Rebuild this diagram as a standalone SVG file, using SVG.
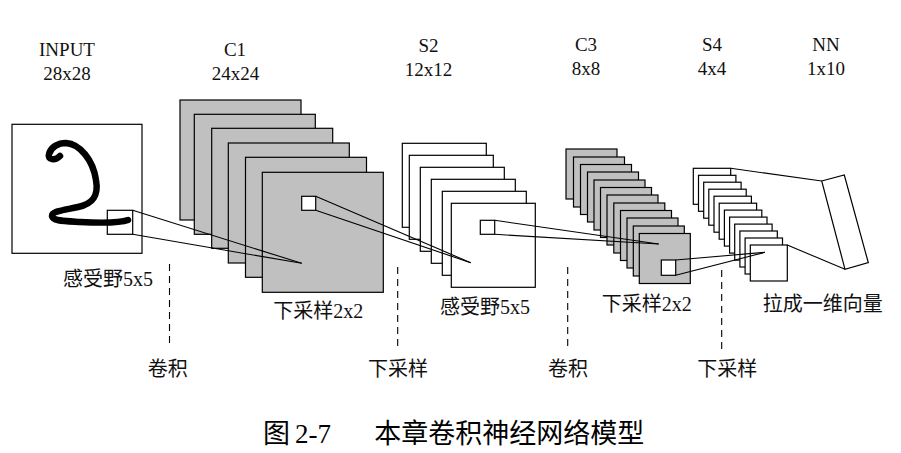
<svg xmlns="http://www.w3.org/2000/svg" width="901" height="453" viewBox="0 0 901 453">
<style>
.bg{fill:#ffffff}
.gray{fill:#c0c0c0;stroke:#000;stroke-width:1.2}
.white{fill:#ffffff;stroke:#000;stroke-width:1.2}
.open{fill:none;stroke:#000;stroke-width:1.2}
.conn{fill:none;stroke:#000;stroke-width:1.1}
.dash{fill:none;stroke:#000;stroke-width:1.1;stroke-dasharray:7 5}
.hand{fill:none;stroke:#000;stroke-width:6.5;stroke-linecap:round;stroke-linejoin:round}
.top{font-family:"Liberation Serif","Times New Roman","DejaVu Serif",serif;font-size:19px;fill:#111;text-anchor:middle}
.lbl{font-family:"Liberation Serif","Noto Sans CJK SC",serif;font-size:20px;fill:#111}
.cap{font-family:"Liberation Serif","Noto Sans CJK SC",serif;font-size:27px;fill:#000}
</style>
<rect class="bg" x="0" y="0" width="901" height="453"/>

<g id="input">
  <rect class="white" x="12" y="124.3" width="130" height="129"/>
  <path class="hand" d="M60 156 C55 161,47 160,49 154 C51 147,58 143,66 143 C80 144,93 160,96 180 C99 197,92 204,78 207 C65 210,52 211,52 216 C53 221,62 221,80 222 C100 223,120 223,128 220"/>
  <rect class="open" x="107.3" y="210.3" width="25.4" height="24"/>
  <text class="top" x="67" y="56">INPUT</text>
  <text class="top" x="67" y="80">28x28</text>
  <text class="lbl" x="63" y="285.5">感受野5x5</text>
</g>

<g id="c1">
  <rect class="gray" x="180" y="100" width="121" height="120"/>
  <rect class="gray" x="194.3" y="114.3" width="121" height="120"/>
  <rect class="gray" x="211.7" y="128.3" width="121" height="120"/>
  <rect class="gray" x="228.3" y="143" width="121" height="120"/>
  <rect class="gray" x="245.5" y="157.3" width="121" height="120"/>
  <rect class="gray" x="262.3" y="172.3" width="121" height="120"/>
  <rect class="white" x="301.7" y="196.3" width="14" height="14"/>
  <text class="top" x="235" y="56">C1</text>
  <text class="top" x="235.5" y="80">24x24</text>
  <text class="lbl" x="273.3" y="318">下采样2x2</text>
</g>

<g id="s2">
  <rect class="white" x="402.3" y="143.3" width="84" height="84"/>
  <rect class="white" x="409.3" y="155.3" width="84" height="84"/>
  <rect class="white" x="420.3" y="167.3" width="84" height="84"/>
  <rect class="white" x="431.3" y="179.3" width="84" height="84"/>
  <rect class="white" x="442.3" y="191.3" width="84" height="84"/>
  <rect class="white" x="451.3" y="203.3" width="84" height="84"/>
  <rect class="white" x="480.3" y="220.3" width="14.4" height="14"/>
  <text class="top" x="428.5" y="51.5">S2</text>
  <text class="top" x="428.5" y="76">12x12</text>
  <text class="lbl" x="440" y="314">感受野5x5</text>
</g>

<g id="c3">
  <rect class="gray" x="566" y="149" width="51" height="50"/>
  <rect class="gray" x="573.5" y="157" width="51" height="50"/>
  <rect class="gray" x="580.5" y="164.5" width="51" height="50"/>
  <rect class="gray" x="587.5" y="172" width="51" height="50"/>
  <rect class="gray" x="594" y="180" width="51" height="50"/>
  <rect class="gray" x="600.5" y="187.5" width="51" height="50"/>
  <rect class="gray" x="607" y="195" width="51" height="50"/>
  <rect class="gray" x="613.8" y="203" width="51" height="50"/>
  <rect class="gray" x="620.5" y="210.5" width="51" height="50"/>
  <rect class="gray" x="627" y="218" width="51" height="50"/>
  <rect class="gray" x="633.3" y="226" width="51" height="50"/>
  <rect class="gray" x="639.3" y="233.5" width="51" height="50"/>
  <rect class="white" x="661.3" y="260" width="14.4" height="15.3"/>
  <text class="top" x="586" y="51">C3</text>
  <text class="top" x="586" y="75">8x8</text>
  <text class="lbl" x="601.7" y="311">下采样2x2</text>
</g>

<g id="s4">
  <rect class="white" x="693.3" y="168.3" width="37.4" height="36"/>
  <rect class="white" x="698.5" y="175.3" width="37.4" height="36"/>
  <rect class="white" x="703.7" y="182.2" width="37.4" height="36"/>
  <rect class="white" x="708.8" y="189.2" width="37.4" height="36"/>
  <rect class="white" x="714" y="196.2" width="37.4" height="36"/>
  <rect class="white" x="719.2" y="203.2" width="37.4" height="36"/>
  <rect class="white" x="724.4" y="210.1" width="37.4" height="36"/>
  <rect class="white" x="729.6" y="217.1" width="37.4" height="36"/>
  <rect class="white" x="734.7" y="224.1" width="37.4" height="36"/>
  <rect class="white" x="739.9" y="231" width="37.4" height="36"/>
  <rect class="white" x="745.1" y="238" width="37.4" height="36"/>
  <rect class="white" x="750.3" y="245" width="37" height="36"/>
  <text class="top" x="712" y="51">S4</text>
  <text class="top" x="712" y="75">4x4</text>
</g>

<g id="nn">
  <polygon class="white" points="821.7,181 844.3,175 868.3,262.7 845,269.3"/>
  <text class="top" x="826" y="51">NN</text>
  <text class="top" x="826" y="75">1x10</text>
  <text class="lbl" x="762.7" y="311">拉成一维向量</text>
</g>

<g id="stages">
  <line class="dash" x1="169.5" y1="264" x2="169.5" y2="347"/>
  <line class="dash" x1="397.7" y1="267" x2="397.7" y2="348"/>
  <line class="dash" x1="567.7" y1="267" x2="567.7" y2="348"/>
  <line class="dash" x1="721.7" y1="270" x2="721.7" y2="352"/>
  <text class="lbl" x="147.7" y="375.6">卷积</text>
  <text class="lbl" x="368" y="375.6">下采样</text>
  <text class="lbl" x="548" y="375.6">卷积</text>
  <text class="lbl" x="697.3" y="375.6">下采样</text>
</g>

<g id="connectors">
  <line class="conn" x1="132.7" y1="210.3" x2="301.7" y2="263.3"/>
  <line class="conn" x1="132.7" y1="234.3" x2="301.7" y2="263.3"/>
  <line class="conn" x1="315.7" y1="196.3" x2="470.7" y2="262.7"/>
  <line class="conn" x1="315.7" y1="210.3" x2="470.7" y2="262.7"/>
  <line class="conn" x1="494.7" y1="220.3" x2="658.7" y2="244"/>
  <line class="conn" x1="494.7" y1="234.3" x2="658.7" y2="244"/>
  <line class="conn" x1="675.7" y1="260" x2="765" y2="252.3"/>
  <line class="conn" x1="675.7" y1="275.3" x2="765" y2="252.3"/>
  <line class="conn" x1="730.7" y1="168.3" x2="821.7" y2="181"/>
  <line class="conn" x1="787.3" y1="245" x2="845" y2="269.3"/>
</g>

<g id="caption">
  <text class="cap" x="263" y="443">图</text>
  <text class="cap" x="295" y="443">2-7</text>
  <text class="cap" x="374.3" y="443">本章卷积神经网络模型</text>
</g>
</svg>
